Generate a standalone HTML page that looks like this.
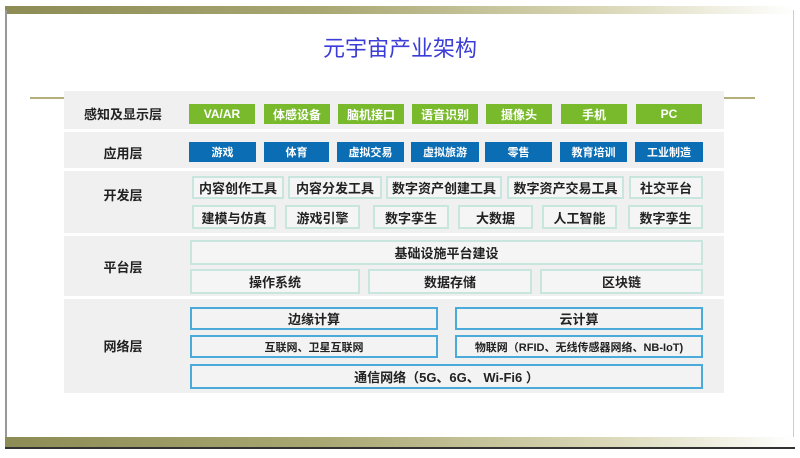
<!DOCTYPE html>
<html><head><meta charset="utf-8"><style>
*{margin:0;padding:0;box-sizing:border-box}
body{width:800px;height:458px;background:#fff;position:relative;overflow:hidden;font-family:"Liberation Sans","Noto Sans CJK SC",sans-serif;font-weight:bold}
.a{position:absolute}
.c{display:flex;align-items:center;justify-content:center;white-space:nowrap}
.g{background:#79b92c;color:#fff;font-size:12px}
.b{background:#0b6db4;color:#fff;font-size:11px}
.d{background:#f5f5f5;border:2px solid #c9e6de;color:#222;font-size:13px}
.n{background:#f3f3f3;border:2px solid #4aaad9;color:#222;font-size:12px}
.p{background:#f0f0f0;left:64px;width:660px}
.l{font-size:13px;color:#222;left:64px;width:118px}
</style></head><body>
<div class="a" style="left:5px;top:6px;width:790px;height:8px;background:linear-gradient(90deg,#8d8c55,#a9a772 40%,#d8d6b4 75%,#fff)"></div>
<div class="a" style="left:5px;top:10px;width:2px;height:430px;background:#999"></div>
<div class="a" style="left:793px;top:10px;width:1px;height:430px;background:#ccc"></div>
<div class="a" style="left:5px;top:437px;width:790px;height:10px;background:linear-gradient(90deg,#8d8c55,#a9a772 40%,#d8d6b4 75%,#fff)"></div>
<div class="a" style="left:5px;top:447px;width:790px;height:2px;background:#333"></div>
<div class="a c" style="left:0;width:800px;top:32px;height:30px;font-size:22px;font-weight:normal;color:#3c3cd6">元宇宙产业架构</div>
<div class="a" style="left:30px;top:97px;width:725px;height:2px;background:#b5b07a"></div>

<div class="a p" style="top:91px;height:38px"></div>
<div class="a p" style="top:132px;height:36px"></div>
<div class="a p" style="top:171px;height:62px"></div>
<div class="a p" style="top:236px;height:60px"></div>
<div class="a p" style="top:299px;height:94px"></div>

<div class="a c l" style="top:103px;height:20px">感知及显示层</div>
<div class="a c l" style="top:142px;height:20px">应用层</div>
<div class="a c l" style="top:184px;height:20px">开发层</div>
<div class="a c l" style="top:256px;height:20px">平台层</div>
<div class="a c l" style="top:335px;height:20px">网络层</div>

<div class="a c g" style="left:189px;top:104px;width:66px;height:20px">VA/AR</div>
<div class="a c g" style="left:264px;top:104px;width:66px;height:20px">体感设备</div>
<div class="a c g" style="left:338px;top:104px;width:66px;height:20px">脑机接口</div>
<div class="a c g" style="left:412px;top:104px;width:66px;height:20px">语音识别</div>
<div class="a c g" style="left:486px;top:104px;width:66px;height:20px">摄像头</div>
<div class="a c g" style="left:561px;top:104px;width:66px;height:20px">手机</div>
<div class="a c g" style="left:636px;top:104px;width:66px;height:20px">PC</div>

<div class="a c b" style="left:189px;top:142px;width:67px;height:20px">游戏</div>
<div class="a c b" style="left:264px;top:142px;width:65px;height:20px">体育</div>
<div class="a c b" style="left:337px;top:142px;width:67px;height:20px">虚拟交易</div>
<div class="a c b" style="left:411px;top:142px;width:68px;height:20px">虚拟旅游</div>
<div class="a c b" style="left:485px;top:142px;width:67px;height:20px">零售</div>
<div class="a c b" style="left:560px;top:142px;width:67px;height:20px">教育培训</div>
<div class="a c b" style="left:635px;top:142px;width:68px;height:20px">工业制造</div>

<div class="a c d" style="left:192px;top:176px;width:92px;height:23px">内容创作工具</div>
<div class="a c d" style="left:288px;top:176px;width:94px;height:23px">内容分发工具</div>
<div class="a c d" style="left:386px;top:176px;width:116px;height:23px">数字资产创建工具</div>
<div class="a c d" style="left:507px;top:176px;width:117px;height:23px">数字资产交易工具</div>
<div class="a c d" style="left:629px;top:176px;width:74px;height:23px">社交平台</div>
<div class="a c d" style="left:192px;top:205px;width:84px;height:24px">建模与仿真</div>
<div class="a c d" style="left:285px;top:205px;width:75px;height:24px">游戏引擎</div>
<div class="a c d" style="left:373px;top:205px;width:76px;height:24px">数字孪生</div>
<div class="a c d" style="left:458px;top:205px;width:75px;height:24px">大数据</div>
<div class="a c d" style="left:542px;top:205px;width:75px;height:24px">人工智能</div>
<div class="a c d" style="left:628px;top:205px;width:75px;height:24px">数字孪生</div>

<div class="a c d" style="left:190px;top:240px;width:513px;height:25px">基础设施平台建设</div>
<div class="a c d" style="left:190px;top:269px;width:170px;height:25px">操作系统</div>
<div class="a c d" style="left:368px;top:269px;width:164px;height:25px">数据存储</div>
<div class="a c d" style="left:540px;top:269px;width:163px;height:25px">区块链</div>

<div class="a c n" style="left:190px;top:307px;width:248px;height:23px;font-size:13px">边缘计算</div>
<div class="a c n" style="left:455px;top:307px;width:248px;height:23px;font-size:13px">云计算</div>
<div class="a c n" style="left:190px;top:335px;width:248px;height:23px;font-size:11px">互联网、卫星互联网</div>
<div class="a c n" style="left:455px;top:335px;width:248px;height:23px;font-size:11px">物联网（RFID、无线传感器网络、NB-IoT)</div>
<div class="a c n" style="left:190px;top:364px;width:513px;height:25px;font-size:13px">通信网络（5G、6G、 Wi-Fi6 ）</div>
</body></html>
